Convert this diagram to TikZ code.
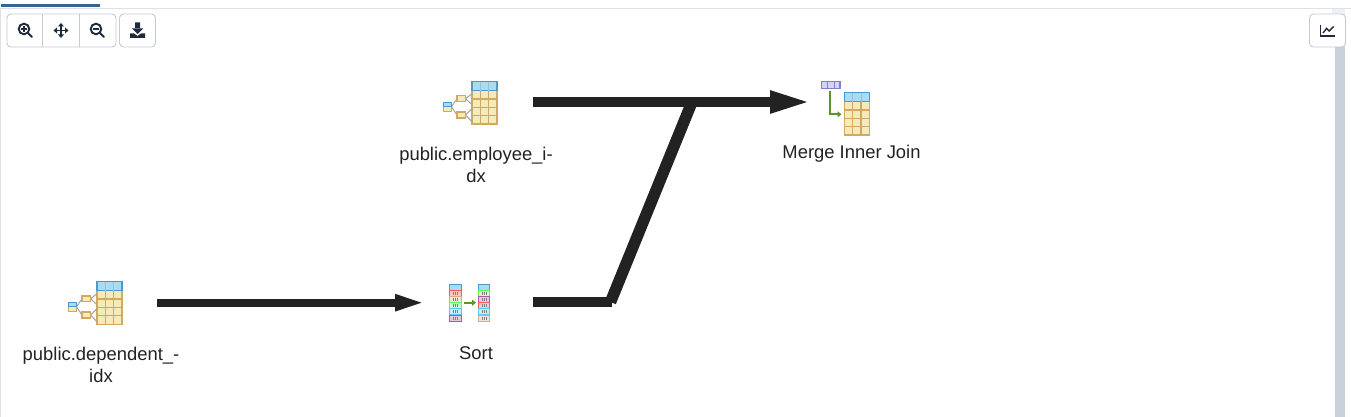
\documentclass[tikz,border=0pt]{standalone}
\usepackage{fontspec}
\setmainfont{Liberation Sans}
\usetikzlibrary{arrows.meta}
\definecolor{ink}{HTML}{222222}
\definecolor{btn}{HTML}{C5CAD3}
\definecolor{tabblue}{HTML}{326690}
\definecolor{rulec}{HTML}{DDE0E6}
\definecolor{barc}{HTML}{C9D1DB}
\definecolor{barl}{HTML}{EEF1F4}
\definecolor{hdr}{HTML}{A8DCF2}
\definecolor{hdre}{HTML}{4A9AD0}
\definecolor{cellc}{HTML}{F5EBB8}
\definecolor{celle}{HTML}{D3A860}
\definecolor{purf}{HTML}{D5D3F5}
\definecolor{pure}{HTML}{7F7FD0}
\definecolor{gr}{HTML}{5E9425}
\definecolor{icon}{HTML}{1F2A3A}
\tikzset{
  x=1pt,y=-1pt,
  flow/.style={line width=10pt,draw=ink},
  flowdiag/.style={line width=11.5pt,draw=ink},
  flowtip/.style={flow,-{Triangle[length=42.5pt,width=20pt]}},
  thintip/.style={line width=8pt,draw=ink,-{Triangle[length=32pt,width=14.5pt]}},
  lbl/.style={font=\fontsize{18.4}{22}\selectfont,text=ink,align=center,inner sep=0pt},
  btnbox/.style={draw=btn,line width=.9pt,fill=white,rounded corners=4pt},
  gico/.style={draw=icon,line width=1.9pt,line cap=round},
  grid/.pic={
    \fill[cellc] (0,9) rectangle (25,42.5);
    \fill[hdr] (0,0) rectangle (25,9);
    \draw[celle,line width=1.4pt] (0,9) rectangle (25,42.5);
    \foreach \yy in {17.4,25.8,34.1} \draw[celle,line width=1.3pt] (0,\yy) -- (25,\yy);
    \foreach \xx in {8.3,16.7} \draw[celle,line width=1.3pt] (\xx,9) -- (\xx,42.5);
    \draw[hdre,line width=1.4pt] (0,9) -- (0,0) -- (25,0) -- (25,9);
    \draw[hdre,line width=1.1pt] (0,9) -- (25,9);
    \foreach \xx in {8.3,16.7} \draw[hdre!60,line width=1pt] (\xx,0) -- (\xx,9);
  },
  indexicon/.pic={
    \pic at (0,0) {grid};
    \draw[black!35,line width=1pt] (-20.5,25) -- (-15,17) (-20.5,25) -- (-15,33.5)
      (-6.5,17) -- (0,12) (-6.5,17) -- (0,23) (-6.5,33.5) -- (0,27) (-6.5,33.5) -- (0,40);
    \filldraw[fill=cellc,draw=celle,line width=1.2pt] (-28.7,25) rectangle (-20.3,30);
    \filldraw[fill=hdr,draw=hdre,line width=1.2pt] (-28.7,21) rectangle (-20.3,25);
    \filldraw[fill=cellc,draw=celle,line width=1.2pt] (-15,14.2) rectangle (-6.4,20);
    \filldraw[fill=cellc,draw=celle,line width=1.2pt] (-15,30.3) rectangle (-6.4,36.3);
  },
}
\newcommand{\sortcell}[3]{\filldraw[fill=#3!22,draw=#3!65,line width=1pt] (#1,#2) rectangle ++(11.5,6.17);
  \foreach \dx in {3.7,5.7,7.7} \draw[black!50,line width=.7pt] (#1+\dx,#2+1.6) -- ++(0,3);}
\begin{document}
\begin{tikzpicture}
\useasboundingbox (0,0) rectangle (1351,417);
\fill[white] (0,0) rectangle (1351,417);
\fill[barl] (1331.5,8) rectangle (1345,47);
\fill[barc] (1334.5,47) rectangle (1345,417);
\draw[rulec,line width=1pt] (0,8.5) -- (1351,8.5);
\draw[rulec,line width=1pt] (.5,8.5) -- (.5,417);
\fill[tabblue] (1,4) rectangle (100,7);
% toolbar
\node[btnbox,minimum width=109pt,minimum height=33pt,inner sep=0pt] (group) at (61.5,30.5) {};
\draw[btn,line width=.9pt] (42.7,14) -- (42.7,47) (79.3,14) -- (79.3,47);
\node[btnbox,minimum width=36pt,minimum height=33pt,inner sep=0pt] (save) at (137.5,30.5) {};
\node[btnbox,minimum width=36pt,minimum height=33pt,inner sep=0pt] (stats) at (1327.5,30.5) {};
\draw[gico] (24,29) circle (5.3pt) (28,33) -- (32,37);
\draw[icon,line width=1.3pt] (21.3,29) -- (26.7,29) (24,26.3) -- (24,31.7);
\draw[icon,line width=1.5pt] (54.5,30.5) -- (67.5,30.5) (61,24) -- (61,37);
\fill[icon] (61,23) -- (64,26.5) -- (58,26.5) -- cycle (61,38) -- (64,34.5) -- (58,34.5) -- cycle
  (53.5,30.5) -- (57,27.5) -- (57,33.5) -- cycle (68.5,30.5) -- (65,27.5) -- (65,33.5) -- cycle;
\draw[gico] (96,29) circle (5.3pt) (100,33) -- (104,37);
\draw[icon,line width=1.3pt] (93.3,29) -- (98.7,29);
\fill[icon] (135,22.5) rectangle (140,29) (132,28.5) -- (143,28.5) -- (137.5,34) -- cycle;
\fill[icon] (130,33.5) -- (134,33.5) -- (137.5,36) -- (141,33.5) -- (145,33.5) -- (145,38) -- (130,38) -- cycle;
\draw[icon,line width=1.2pt] (1320.5,25) -- (1320.5,36) -- (1335,36);
\draw[icon,line width=1.4pt] (1323,33) -- (1326.5,28.5) -- (1329,31) -- (1333.5,26.5);
% icons
\pic at (472,81.7) {indexicon};
\pic at (97,281.7) {indexicon};
\pic at (844.3,92.7) {grid};
\filldraw[fill=purf,draw=pure,line width=1.2pt] (821.7,81.7) rectangle (840,88.3);
\draw[pure,line width=.8pt] (827.8,81.7) -- (827.8,88.3) (833.9,81.7) -- (833.9,88.3);
\draw[gr,line width=2.1pt,-{Triangle[length=4pt,width=6pt]}] (830.3,91.5) -- (830.3,114.3) -- (841.5,114.3);
\filldraw[fill=hdr,draw=hdre,line width=1pt] (449.8,284) rectangle (461.3,290.2);
\sortcell{449.8}{290.2}{red}
\sortcell{449.8}{296.4}{brown}
\sortcell{449.8}{302.6}{green}
\sortcell{449.8}{308.8}{cyan}
\sortcell{449.8}{315}{violet}
\filldraw[fill=hdr,draw=hdre,line width=1pt] (478.4,284) rectangle (489.9,290.2);
\sortcell{478.4}{290.2}{green}
\sortcell{478.4}{296.4}{violet}
\sortcell{478.4}{302.6}{red}
\sortcell{478.4}{308.8}{cyan}
\sortcell{478.4}{315}{brown}
\draw[gr,line width=2.1pt,-{Triangle[length=4pt,width=6pt]}] (464,302.7) -- (476,302.7);
% labels
\node[lbl] (employee) at (476,164.5) {public.employee\_i-\\dx};
\node[lbl] (merge) at (851.5,154) {Merge Inner Join};
\node[lbl] (dependent) at (101,364.5) {public.dependent\_-\\idx};
\node[lbl] (sort) at (476,353.5) {Sort};
% connectors
\coordinate (empout) at (533,102);
\coordinate (mergein) at (812.5,102);
\coordinate (depout) at (157,302.7);
\coordinate (sortin) at (427,302.7);
\coordinate (sortout) at (533,302);
\coordinate (bendend) at (612,302);
\coordinate (bendlow) at (610.5,302);
\coordinate (bendhigh) at (692,102);
\draw[flow] (sortout) -- (bendend);
\draw[flowdiag] (bendlow) -- (bendhigh);
\draw[flowtip] (empout) -- (mergein);
\draw[thintip] (depout) -- (sortin);
\end{tikzpicture}
\end{document}
